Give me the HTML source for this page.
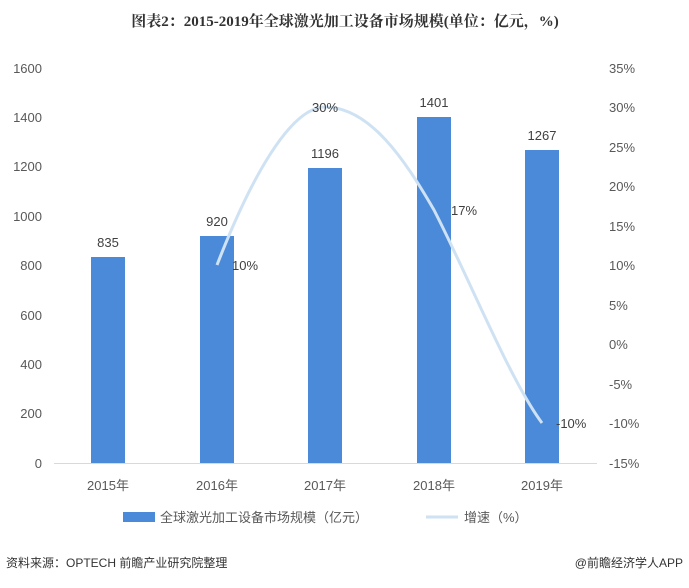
<!DOCTYPE html>
<html><head><meta charset="utf-8"><style>
body{margin:0;background:#fff;width:689px;height:583px;overflow:hidden;font-family:"Liberation Sans","Noto Sans CJK SC",sans-serif;}
</style></head><body>
<svg width="689" height="583" xmlns="http://www.w3.org/2000/svg" font-family="Liberation Sans, Noto Sans CJK SC, sans-serif">
<text x="345" y="26" text-anchor="middle" font-size="15" font-weight="bold" fill="#333" font-family="Liberation Serif, Noto Serif CJK SC, serif">图表2：2015-2019年全球激光加工设备市场规模(单位：亿元，%)</text>
<g font-size="13" fill="#595959" text-anchor="end">
<text x="42" y="468">0</text><text x="42" y="418">200</text><text x="42" y="369">400</text><text x="42" y="320">600</text><text x="42" y="270">800</text><text x="42" y="221">1000</text><text x="42" y="171">1200</text><text x="42" y="122">1400</text><text x="42" y="73">1600</text>
</g>
<g font-size="13" fill="#595959" text-anchor="start">
<text x="609" y="73">35%</text><text x="609" y="112">30%</text><text x="609" y="152">25%</text><text x="609" y="191">20%</text><text x="609" y="231">15%</text><text x="609" y="270">10%</text><text x="609" y="310">5%</text><text x="609" y="349">0%</text><text x="609" y="389">-5%</text><text x="609" y="428">-10%</text><text x="609" y="468">-15%</text>
</g>
<line x1="54" y1="463.5" x2="597" y2="463.5" stroke="#d9d9d9"/>
<g fill="#4a8ad8">
<rect x="91" y="257" width="34" height="206"/>
<rect x="200" y="236" width="34" height="227"/>
<rect x="308" y="168" width="34" height="295"/>
<rect x="417" y="117" width="34" height="346"/>
<rect x="525" y="150" width="34" height="313"/>
</g>
<g font-size="13" fill="#404040" text-anchor="middle">
<text x="108" y="247">835</text><text x="217" y="226">920</text><text x="325" y="158">1196</text><text x="434" y="107">1401</text><text x="542" y="140">1267</text>
</g>
<path d="M217,265 C250,180 290,107 325,107 C370,107 405,160 434,210 C470,280 510,380 542,423" fill="none" stroke="#cfe2f3" stroke-width="3"/>
<g font-size="13" fill="#404040">
<text x="232" y="270">10%</text><text x="312" y="112">30%</text><text x="451" y="215">17%</text><text x="556" y="428">-10%</text>
</g>
<g font-size="13" fill="#595959" text-anchor="middle">
<text x="108" y="490">2015年</text><text x="217" y="490">2016年</text><text x="325" y="490">2017年</text><text x="434" y="490">2018年</text><text x="542" y="490">2019年</text>
</g>
<rect x="123" y="512" width="32" height="10" fill="#4a8ad8"/>
<text x="160" y="522" font-size="13" fill="#595959">全球激光加工设备市场规模（亿元）</text>
<line x1="426" y1="517" x2="458" y2="517" stroke="#cfe2f3" stroke-width="3"/>
<text x="464" y="522" font-size="13" fill="#595959">增速（%）</text>
<text x="6" y="567" font-size="12" fill="#333">资料来源：OPTECH 前瞻产业研究院整理</text>
<text x="683" y="567" font-size="12" fill="#333" text-anchor="end">@前瞻经济学人APP</text>
</svg>
</body></html>
